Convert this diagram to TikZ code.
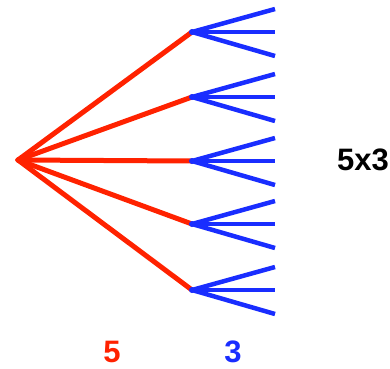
\documentclass[tikz,border=0pt]{standalone}
\usepackage{fontspec}
\setmainfont{Liberation Sans}
\definecolor{tred}{RGB}{255,34,0}
\definecolor{tblue}{RGB}{25,45,255}
\begin{document}
\begin{tikzpicture}[x=1pt,y=-1pt,
  redline/.style={tred,line width=5pt,line cap=round},
  blueline/.style={tblue,line width=4.5pt,line cap=butt},
  lbl/.style={font=\fontsize{31}{31}\selectfont\bfseries,inner sep=0pt}]
\useasboundingbox (0,0) rectangle (390,368);
\coordinate (r) at (18,160);
\foreach \i/\y in {1/32,2/97,3/161,4/224,5/290}{
  \coordinate (h\i) at (192,\y);
  \coordinate (a\i) at (275,\y-23);
  \coordinate (b\i) at (275,\y);
  \coordinate (c\i) at (275,\y+24);
}
\foreach \i in {1,...,5}{
  \draw[redline] (r) -- (h\i);
}
\foreach \i in {1,...,5}{
  \draw[blueline] (h\i) -- (a\i);
  \draw[blueline] (h\i) -- (b\i);
  \draw[blueline] (h\i) -- (c\i);
  \fill[tblue] (h\i) circle (3pt);
}
\node[lbl,anchor=base east] (t) at (389,170) {5x3};
\node[lbl,text=tred,anchor=base] (n5) at (112,362) {5};
\node[lbl,text=tblue,anchor=base] (n3) at (233,362) {3};
\end{tikzpicture}
\end{document}
